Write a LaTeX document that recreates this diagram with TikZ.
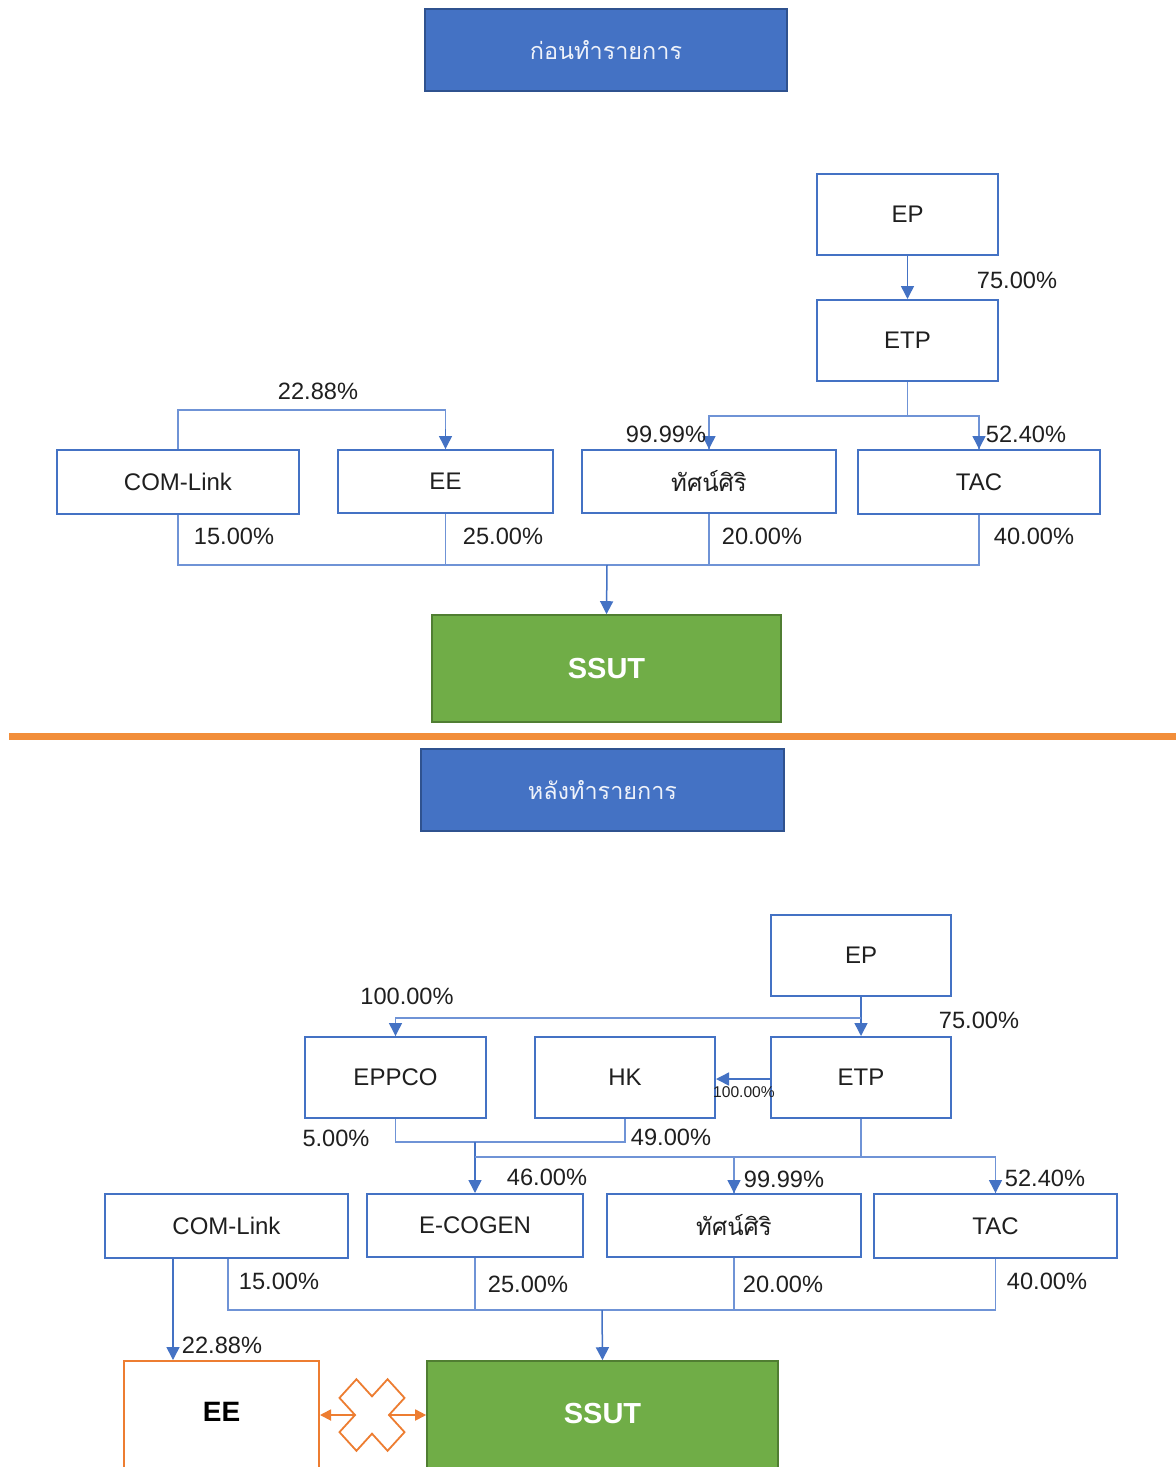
\documentclass[tikz,border=0pt]{standalone}
\usepackage{fontspec}
\setmainfont{Liberation Sans}
\newfontfamily\thai[Script=Thai]{Loma}
\usetikzlibrary{arrows.meta,calc}
\definecolor{bblue}{HTML}{4472C4}
\definecolor{tborder}{HTML}{2F528F}
\definecolor{lblue}{HTML}{6F93D6}
\definecolor{ggreen}{HTML}{70AD47}
\definecolor{gborder}{HTML}{507E32}
\definecolor{oorange}{HTML}{ED7D31}
\definecolor{sepor}{HTML}{F28E3A}
\definecolor{txt}{HTML}{1F1F1F}
\definecolor{ttext}{HTML}{EEF2FA}
\tikzset{
  sz/.style 2 args={minimum width=#1*0.5pt, minimum height=#2*0.5pt},
  box/.style={draw=bblue, line width=1pt, fill=white, inner sep=0pt, text=txt, font=\fontsize{12}{14}\selectfont},
  title/.style={draw=tborder, line width=1pt, fill=bblue, inner sep=0pt, text=ttext, font=\thai\fontsize{11.7}{14}\selectfont},
  green/.style={draw=gborder, line width=0.8pt, fill=ggreen, inner sep=0pt, text=white, font=\fontsize{14.5}{17}\selectfont\bfseries},
  lbl/.style={inner sep=0pt, text=txt, font=\fontsize{11.8}{14}\selectfont},
  ln/.style={draw=lblue, line width=0.75pt},
  tip/.style={draw=bblue, line width=0.75pt, -{Triangle[width=6.5pt,length=6.5pt]}},
  ol/.style={draw=oorange, line width=0.9pt}
}
\begin{document}
\begin{tikzpicture}[x=0.5pt,y=-0.5pt]
\useasboundingbox (0,0) rectangle (1176,1467);
\clip (0,0) rectangle (1176,1467);
\fill[white] (0,0) rectangle (1176,1467);

% ---------------- TOP ----------------
\node[title, sz={362}{82}] (t1) at (606,50) {ก่อนทำรายการ};
\node[box, sz={181}{81}] (ep1) at (907.5,214.5) {EP};
\node[box, sz={181}{81}] (etp1) at (907.5,340.5) {ETP};
\node[box, sz={242}{64}] (com1) at (178,482) {COM-Link};
\node[box, sz={215}{63}] (ee1) at (445.5,481.5) {EE};
\node[box, sz={254}{63}] (tas1) at (709,481.5) {\thai ทัศน์ศิริ};
\node[box, sz={242}{64}] (tac1) at (979,482) {TAC};
\node[green, sz={349}{107}] (ssut1) at (606.5,668.5) {SSUT};

\draw[tip] (ep1.south) -- (etp1.north);
\coordinate (j1) at (907.5,416);
\draw[ln] (etp1.south) -- (j1);
\draw[ln] (j1) -| (tas1.north);
\draw[ln] (j1) -| (tac1.north);
\draw[tip] ($(tas1.north)+(0,-10)$) -- (tas1.north);
\draw[tip] ($(tac1.north)+(0,-10)$) -- (tac1.north);
\coordinate (j2) at (178,410);
\draw[ln] (com1.north) -- (j2) -| (ee1.north);
\draw[tip] ($(ee1.north)+(0,-20)$) -- (ee1.north);
\coordinate (b1) at (607,565);
\draw[ln] (com1.south) |- (b1);
\draw[ln] (ee1.south) |- (b1);
\draw[ln] (tas1.south) |- (b1);
\draw[ln] (tac1.south) |- (b1);
\draw[tip] (b1) -- (ssut1.north);

\node[lbl] (a1) at (1017,280) {75.00\%};
\node[lbl] (a2) at (318,391) {22.88\%};
\node[lbl] (a3) at (666,434) {99.99\%};
\node[lbl] (a4) at (1026,434) {52.40\%};
\node[lbl] (a5) at (234,536) {15.00\%};
\node[lbl] (a6) at (503,536) {25.00\%};
\node[lbl] (a7) at (762,536) {20.00\%};
\node[lbl] (a8) at (1034,536) {40.00\%};

% separator
\draw[draw=sepor, line width=3.5pt] (9,736.5) -- (1176,736.5);

% ---------------- BOTTOM ----------------
\node[title, sz={363}{82}] (t2) at (602.5,790) {หลังทำรายการ};
\node[box, sz={180}{81}] (ep2) at (861,955.5) {EP};
\node[box, sz={180}{81}] (etp2) at (861,1077.5) {ETP};
\node[box, sz={181}{81}] (eppco) at (395.5,1077.5) {EPPCO};
\node[box, sz={180}{81}] (hk) at (625,1077.5) {HK};
\node[box, sz={243}{64}] (com2) at (226.5,1226) {COM-Link};
\node[box, sz={216}{63}] (ecogen) at (475,1225.5) {E-COGEN};
\node[box, sz={254}{63}] (tas2) at (734,1225.5) {\thai ทัศน์ศิริ};
\node[box, sz={243}{64}] (tac2) at (995.5,1226) {TAC};
\node[green, sz={351}{130}] (ssut2) at (602.5,1426) {\raisebox{13pt}{SSUT}};
\node[box, draw=oorange, line width=1pt, sz={195}{130}, font=\fontsize{14}{17}\selectfont\bfseries, text=black] (ee2) at (221.5,1426) {\raisebox{14pt}{EE}};

\draw[tip] (ep2.south) -- (etp2.north);
\coordinate (j3) at (861,1018);
\draw[ln] (j3) -| (eppco.north);
\draw[tip] ($(eppco.north)+(0,-10)$) -- (eppco.north);
\draw[tip] ([yshift=-0.75pt]etp2.west) -- ([yshift=-0.75pt]hk.east);
\coordinate (j4) at (475,1142);
\draw[ln] (eppco.south) |- (j4);
\draw[ln] (hk.south) |- (j4);
\draw[tip] (j4) -- (ecogen.north);
\coordinate (j5) at (861,1157);
\draw[ln] (etp2.south) -- (j5);
\draw[ln] (j5) -| (j4 |- j5);
\draw[ln] (j5) -| (tas2.north);
\draw[ln] (j5) -| (tac2.north);
\draw[tip] ($(tas2.north)+(0,-10)$) -- (tas2.north);
\draw[tip] ($(tac2.north)+(0,-10)$) -- (tac2.north);
\coordinate (b2) at (602,1310);
\coordinate (c2) at ([xshift=0.75pt]com2.south);
\draw[ln] (c2) |- (b2);
\draw[ln] (ecogen.south) |- (b2);
\draw[ln] (tas2.south) |- (b2);
\draw[ln] (tac2.south) |- (b2);
\draw[tip] (b2) -- (ssut2.north);
\coordinate (c1) at ([xshift=-26.75pt]com2.south);
\draw[tip] (c1) -- (c1 |- ee2.north);

\node[lbl] (b01) at (407,996) {100.00\%};
\node[lbl] (b02) at (979,1020) {75.00\%};
\node[lbl, font=\fontsize{7.8}{9}\selectfont] (b03) at (744,1092) {100.00\%};
\node[lbl] (b04) at (336,1138) {5.00\%};
\node[lbl] (b05) at (671,1137) {49.00\%};
\node[lbl] (b06) at (547,1177) {46.00\%};
\node[lbl] (b07) at (784,1179) {99.99\%};
\node[lbl] (b08) at (1045,1178) {52.40\%};
\node[lbl] (b09) at (279,1281) {15.00\%};
\node[lbl] (b10) at (528,1284) {25.00\%};
\node[lbl] (b11) at (783,1284) {20.00\%};
\node[lbl] (b12) at (1047,1281) {40.00\%};
\node[lbl] (b13) at (222,1345) {22.88\%};

% orange double arrow with X
\coordinate (xc) at (372,1415);
\draw[ol, {Triangle[width=5.5pt,length=5.5pt]}-{Triangle[width=5.5pt,length=5.5pt]}] (xc -| ee2.east) -- (xc -| ssut2.west);
\begin{scope}[shift={(xc)}, yscale=1.1]
\draw[ol, fill=white, rotate=45]
  (12,34) -- (12,12) -- (34,12) -- (34,-12) -- (12,-12) -- (12,-34) -- (-12,-34) -- (-12,-12) -- (-34,-12) -- (-34,12) -- (-12,12) -- (-12,34) -- cycle;
\end{scope}
\end{tikzpicture}
\end{document}
